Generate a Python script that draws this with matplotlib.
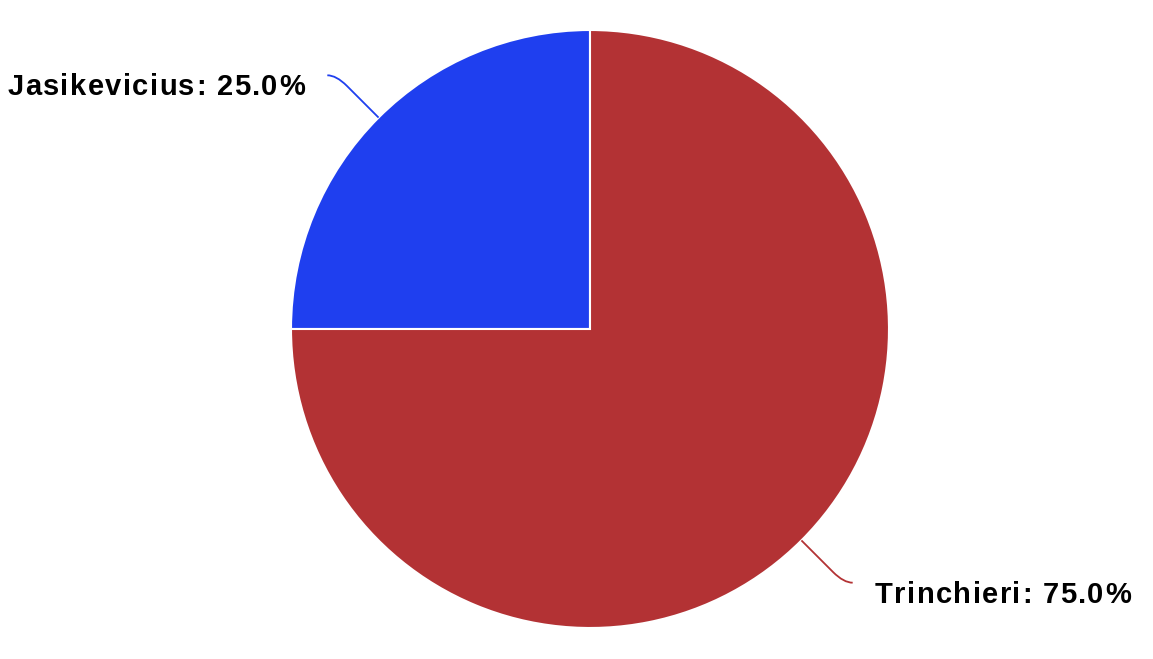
import matplotlib
matplotlib.use("Agg")
import matplotlib.pyplot as plt
import numpy as np
from matplotlib.path import Path
from matplotlib.patches import PathPatch
from matplotlib.font_manager import FontProperties

# coach share values
coaches = ["Jasikevicius", "Trinchieri"]
shares = [25.0, 75.0]
colors = ["#1f3fef", "#b33234"]

fig = plt.figure(figsize=(11.53, 6.59), dpi=100)
r_px = 299
cx, cy = 590, 659 - 329
ax = fig.add_axes([(cx - r_px) / 1153, (cy - r_px) / 659, 2 * r_px / 1153, 2 * r_px / 659])

wedges, _ = ax.pie(shares, colors=colors, startangle=90, counterclock=True,
                   wedgeprops=dict(edgecolor="white", linewidth=1.5))
ax.set_xlim(-1, 1)
ax.set_ylim(-1, 1)
ax.set_aspect("equal")
ax.axis("off")

fp = FontProperties(family="Liberation Sans", weight="bold", size=21)
renderer = fig.canvas.get_renderer()
track = 1.4  # extra px between letters


def spaced_text(x, y, s, align):
    widths = [renderer.get_text_width_height_descent(c, fp, ismath=False)[0] for c in s]
    total = sum(widths) + track * (len(s) - 1)
    off = 0 if align == "left" else -total
    for c, w in zip(s, widths):
        ax.annotate(c, (x, y), xytext=(off * 72 / fig.dpi, 0), textcoords="offset points",
                    ha="left", va="center", fontproperties=fp, annotation_clip=False)
        off += w + track


for w, name, val, col in zip(wedges, coaches, shares, colors):
    ang = np.deg2rad((w.theta1 + w.theta2) / 2)
    x0, y0 = np.cos(ang), np.sin(ang)
    sx = np.sign(x0)
    ey = y0 * 1.2
    kx = x0 + (ey - y0) * (x0 / y0)
    # straight part, then bend to horizontal
    p1 = (x0 + (kx - x0) * 0.75, y0 + (ey - y0) * 0.75)
    ex = kx + sx * 0.03
    path = Path([(x0, y0), p1, (kx, ey), (ex, ey)],
                [Path.MOVETO, Path.LINETO, Path.CURVE3, Path.CURVE3])
    ax.add_patch(PathPatch(path, fill=False, edgecolor=col, lw=1.3, clip_on=False))
    spaced_text(ex + sx * 0.075, ey - 0.04, f"{name}: {val:.1f}%",
                "left" if sx > 0 else "right")

fig.savefig("out.png", dpi=100)
